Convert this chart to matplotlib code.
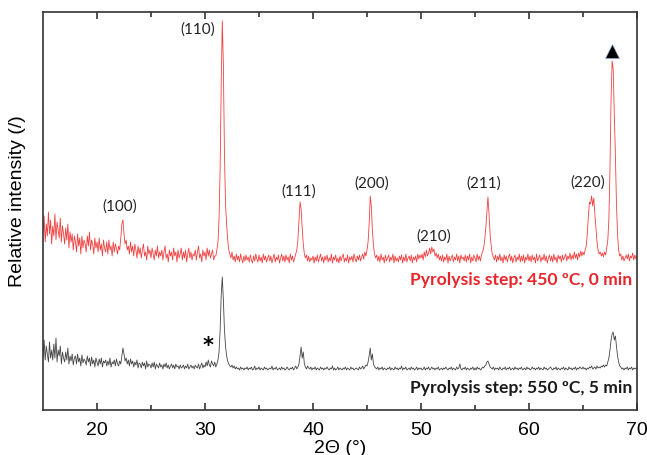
import numpy as np
import matplotlib
matplotlib.use("Agg")
from matplotlib import pyplot as plt

# 2-theta grid, 0.1 deg step from 15 to 70
two_theta = np.round(np.arange(15.0, 70.01, 0.1), 1)

# Intensity above each pattern's own baseline, one row per degree
red_450 = """
32 48 22 40 28 52 30 44 20 38
28 50 24 42 34 26 46 22 38 30
20 36 24 40 16 32 22 30 14 28
22 12 30 18 26 10 28 16 24 20
12 28 18 32 14 24 20 10 26 16
22 12 26 14 20 8 24 16 12 22
10 24 14 18 8 22 12 20 16 10
18 14 26 40 44 30 20 24 14 18
10 22 12 18 8 20 14 6 18 10
16 6 14 20 8 12 4 18 10 14
6 16 10 4 14 8 18 6 12 8
14 4 12 18 6 10 2 14 8 12
4 16 8 12 2 14 6 10 16 4
12 6 14 2 10 16 6 12 4 10
8 14 4 12 18 6 10 2 14 8
12 4 16 8 14 6 10 14 4 8
8 14 22 45 95 180 243 200 110 60
40 24 14 10 6 12 4 8 2 10
4 8 2 10 5 1 8 3 9 4
7 2 9 4 1 8 3 10 5 2
9 3 7 1 10 4 8 2 6 9
3 8 1 6 10 2 7 4 9 1
6 10 3 8 2 9 4 7 1 10
4 8 2 6 10 14 24 44 62 55
36 20 10 6 9 3 8 2 6 4
8 1 7 3 9 2 6 10 3 7
1 8 4 9 2 6 3 10 1 7
4 9 2 6 1 8 3 7 10 2
6 3 9 1 7 4 8 2 10 5
2 8 4 9 3 7 10 5 12 8
14 22 40 68 58 34 18 10 6 9
3 8 2 10 4 7 1 9 3 6
9 2 7 4 10 1 8 3 6 2
8 4 9 1 7 3 10 2 6 8
3 9 1 7 4 8 2 10 5 9
6 10 4 12 7 14 8 11 16 10
17 12 15 8 11 6 10 4 8 3
9 2 7 4 10 1 8 3 6 9
2 7 4 10 3 8 1 9 5 7
3 9 2 8 4 10 1 7 3 9
6 2 10 4 8 3 9 12 16 24
36 52 67 50 30 18 10 7 4 9
2 8 4 10 3 7 1 9 4 8
2 7 10 3 8 1 6 9 2 7
4 10 2 8 3 9 1 7 4 10
3 8 2 9 4 7 1 10 3 6
9 2 7 4 10 3 8 1 6 9
3 8 2 10 4 7 1 9 5 8
2 9 4 7 10 3 8 5 11 4
9 5 12 6 10 4 11 7 13 8
12 9 14 18 30 48 62 60 68 58
66 50 36 22 14 10 12 8 11 7
12 9 16 24 45 95 165 203 195 150
110 60 30 14 8 10 4 8 3 6
9 5 10 3 8 6 11 4 9 5
8
"""

black_550 = """
14 30 10 24 16 8 28 12 20 10
26 12 32 8 20 14 24 6 18 12
8 18 10 22 6 14 9 16 5 12
14 6 16 8 12 4 15 7 11 9
5 14 8 12 4 13 6 10 3 12
8 4 11 6 12 3 9 7 10 4
9 5 12 3 8 6 10 4 11 6
4 9 6 14 22 16 9 12 6 10
4 11 6 9 3 8 5 10 2 7
6 2 8 4 7 1 9 3 6 5
2 7 3 8 1 6 4 2 7 3
5 1 6 3 7 2 5 1 4 6
2 5 1 6 3 4 1 5 2 3
5 1 4 2 6 1 3 5 2 4
1 5 3 2 6 1 4 7 2 5
3 8 4 10 5 3 9 6 4 8
3 6 10 18 40 75 93 70 40 24
14 9 6 4 3 5 2 4 1 3
1 2 0 3 1 2 0 2 1 3
0 2 1 3 0 1 4 0 2 1
3 0 2 1 0 3 1 2 0 1
2 1 4 0 2 1 3 0 1 2
0 3 1 2 0 1 3 1 0 2
1 3 0 2 4 1 3 6 14 23
12 18 6 3 1 4 2 1 3 0
2 1 3 0 2 1 0 3 1 2
0 2 1 3 1 0 2 1 4 0
2 0 1 3 0 2 1 0 2 1
3 0 2 1 0 3 1 2 0 1
2 1 0 3 1 2 4 1 3 5
4 8 14 22 10 16 6 3 2 1
3 0 2 1 3 0 2 1 0 2
1 3 0 2 1 0 3 1 2 0
2 1 4 0 2 1 3 0 1 2
0 3 1 2 0 1 3 0 2 1
2 0 1 3 0 2 1 3 0 1
3 1 2 0 2 1 3 0 1 2
0 2 1 3 1 0 2 1 3 0
2 1 0 3 1 2 6 1 0 2
1 3 0 2 1 0 2 1 3 0
2 0 3 1 2 0 1 3 2 4
5 8 9 6 3 2 1 3 0 2
1 2 0 3 1 0 2 1 3 0
2 1 3 0 1 2 0 3 1 2
0 2 1 3 0 1 2 0 3 1
2 0 1 3 1 2 0 2 1 3
0 2 1 0 3 1 2 0 1 2
3 1 0 2 1 3 0 2 1 0
2 1 3 0 2 1 0 3 1 2
0 2 1 3 0 2 1 3 2 1
3 1 2 0 2 1 3 2 4 1
2 3 1 4 2 3 2 4 3 5
3 5 4 8 12 20 30 36 38 30
34 24 14 8 4 3 1 2 0 2
1 3 0 2 1 3 0 2 1 2
1
"""

red_450 = np.array(red_450.split(), dtype=float)
black_550 = np.array(black_550.split(), dtype=float)

peak_labels = ["(100)", "(110)", "(111)", "(200)", "(210)", "(211)", "(220)"]
peak_label_x = [22.1, 29.3, 38.7, 45.4, 51.2, 55.8, 65.4]
peak_label_y = [204, 381, 219, 227, 174, 227, 228]

red_offset = 146
black_offset = 40

fig = plt.figure(figsize=(6.47, 4.56), dpi=100)
ax = fig.add_axes([0.0665, 0.0987, 0.918, 0.8728])

ax.plot(two_theta, red_450 + red_offset, color="#f04040", lw=0.6)
ax.plot(two_theta, black_550 + black_offset, color="#454545", lw=0.6)

ax.set_xlim(15, 70)
ax.set_ylim(0, 398)
ax.set_yticks([])
ax.set_xticks([20, 30, 40, 50, 60, 70])
ax.set_xticks([25, 35, 45, 55, 65], minor=True)
ax.tick_params(axis="x", which="both", direction="in", top=True, color="#333333", width=1.2)
ax.tick_params(axis="x", which="major", length=5, labelsize=14, pad=8)
ax.tick_params(axis="x", which="minor", length=3.5)
for lbl in ax.get_xticklabels():
    lbl.set_family("Liberation Sans")
for sp in ax.spines.values():
    sp.set_color("#333333")
    sp.set_linewidth(1.2)

ax.set_xlabel("2Θ (°)", fontsize=14, family="Liberation Sans", labelpad=1)
fig.text(0.027, 1 - 201 / 456, "Relative intensity (/)", rotation=90, fontsize=14,
         family="Liberation Sans", ha="center", va="center")

for lab, x, y in zip(peak_labels, peak_label_x, peak_label_y):
    ax.text(x, y, lab, fontsize=11, family="Lato", ha="center", va="center", color="#222222")

ax.plot([67.7], [359], marker="^", ms=10, color="black", mec="#8fb3d9", mew=0.5)
ax.text(30.3, 65, "*", fontsize=15, fontweight="bold", ha="center", va="center")

ax.text(69.6, 131, "Pyrolysis step: 450 ºC, 0 min", fontsize=12.6, fontweight="bold",
        family="Lato", color="#e8262b", ha="right", va="center")
ax.text(69.6, 23, "Pyrolysis step: 550 ºC, 5 min", fontsize=12.6, fontweight="bold",
        family="Lato", color="#1a1a1a", ha="right", va="center")

fig.savefig("out.png", dpi=100)
